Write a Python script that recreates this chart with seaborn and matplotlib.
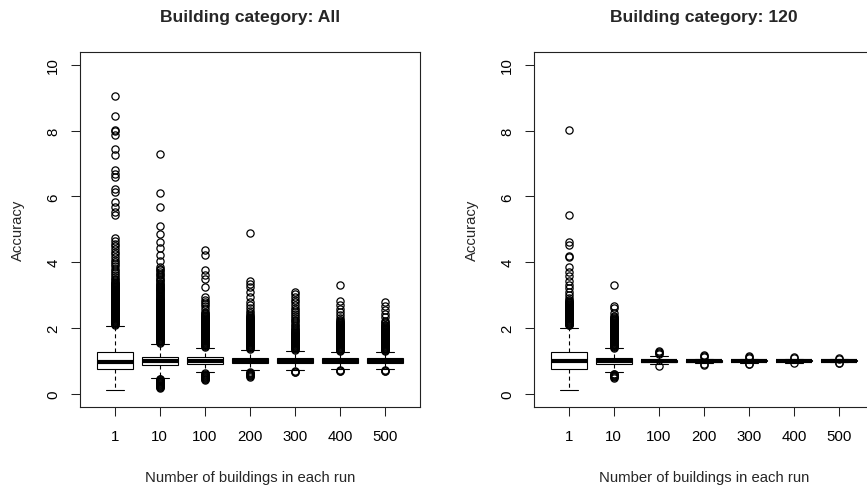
import matplotlib
matplotlib.use("Agg")
import pandas as pd
import matplotlib.pyplot as plt
import seaborn as sns

# x categories: number of buildings in each run
runs = ["1", "10", "100", "200", "300", "400", "500"]

# --- Building category: All (box stats) ---
all_whislo = [0.11, 0.49, 0.66, 0.71, 0.72, 0.76, 0.76]
all_q1 = [0.75, 0.87, 0.92, 0.94, 0.94, 0.95, 0.95]
all_med = [0.98, 1.00, 1.00, 0.99, 0.99, 1.00, 1.00]
all_q3 = [1.28, 1.13, 1.11, 1.10, 1.09, 1.08, 1.08]
all_whishi = [2.07, 1.51, 1.39, 1.33, 1.31, 1.27, 1.27]

all_low_out = [
    [],
    [0.46, 0.44, 0.42, 0.40, 0.38, 0.36, 0.34, 0.32, 0.30, 0.28,
     0.26, 0.24, 0.22, 0.20, 0.18],
    [0.62, 0.60, 0.58, 0.56, 0.54, 0.52, 0.50, 0.48, 0.46, 0.44, 0.42],
    [0.66, 0.64, 0.62, 0.60, 0.58, 0.56, 0.54, 0.52],
    [0.69, 0.67, 0.65],
    [0.72, 0.70, 0.68],
    [0.72, 0.70, 0.68],
]
all_high_out = [
    [2.10, 2.12, 2.14, 2.16, 2.18, 2.20, 2.22, 2.24, 2.26, 2.28,
     2.30, 2.32, 2.34, 2.36, 2.38, 2.40, 2.42, 2.44, 2.46, 2.48,
     2.50, 2.52, 2.54, 2.56, 2.58, 2.60, 2.62, 2.64, 2.66, 2.68,
     2.70, 2.72, 2.74, 2.76, 2.78, 2.80, 2.82, 2.84, 2.86, 2.88,
     2.90, 2.92, 2.94, 2.96, 2.98, 3.00, 3.02, 3.04, 3.06, 3.08,
     3.10, 3.12, 3.14, 3.16, 3.18, 3.20, 3.22, 3.24, 3.26, 3.28,
     3.30, 3.32, 3.34, 3.36, 3.38, 3.40,
     3.45, 3.50, 3.56, 3.62, 3.68, 3.74, 3.80, 3.87, 3.94, 4.01,
     4.08, 4.16, 4.24, 4.32, 4.40, 4.48, 4.56, 4.64, 4.72,
     5.42, 5.53, 5.68, 5.83, 6.13, 6.21, 6.59, 6.69, 6.79, 7.26,
     7.45, 7.85, 7.97, 8.03, 8.44, 9.04],
    [1.55, 1.57, 1.59, 1.61, 1.63, 1.65, 1.67, 1.69, 1.71, 1.73,
     1.75, 1.77, 1.79, 1.81, 1.83, 1.85, 1.87, 1.89, 1.91, 1.93,
     1.95, 1.97, 1.99, 2.01, 2.03, 2.05, 2.07, 2.09, 2.11, 2.13,
     2.15, 2.17, 2.19, 2.21, 2.23, 2.25, 2.27, 2.29, 2.31, 2.33,
     2.35, 2.37, 2.39, 2.41, 2.43, 2.45, 2.47, 2.49, 2.51, 2.53,
     2.55, 2.57, 2.59, 2.61, 2.63, 2.65, 2.67, 2.69, 2.71, 2.73,
     2.75, 2.77, 2.79, 2.81, 2.83, 2.85, 2.87, 2.89, 2.91, 2.93,
     2.96, 2.99, 3.02, 3.05, 3.08, 3.11, 3.14, 3.17, 3.20, 3.23,
     3.26, 3.29, 3.32, 3.35, 3.38, 3.42, 3.46, 3.50, 3.55, 3.60,
     3.65, 3.70, 3.75, 3.80, 3.85,
     4.03, 4.23, 4.42, 4.62, 4.87, 5.10, 5.68, 6.10, 7.28],
    [1.43, 1.45, 1.47, 1.49, 1.51, 1.53, 1.55, 1.57, 1.59, 1.61,
     1.63, 1.65, 1.67, 1.69, 1.71, 1.73, 1.75, 1.77, 1.79, 1.81,
     1.83, 1.85, 1.87, 1.89, 1.91, 1.93, 1.95, 1.97, 1.99, 2.01,
     2.03, 2.05, 2.07, 2.09, 2.11, 2.13, 2.15, 2.17, 2.19, 2.21,
     2.23, 2.25, 2.27, 2.29, 2.31, 2.33, 2.35, 2.37, 2.40, 2.43,
     2.46, 2.50, 2.58, 2.66, 2.72, 2.80, 2.86, 2.95, 3.25, 3.50,
     3.60, 3.76, 4.21, 4.36],
    [1.37, 1.39, 1.41, 1.43, 1.45, 1.47, 1.49, 1.51, 1.53, 1.55,
     1.57, 1.59, 1.61, 1.63, 1.65, 1.67, 1.69, 1.71, 1.73, 1.75,
     1.77, 1.79, 1.81, 1.83, 1.85, 1.87, 1.89, 1.91, 1.93, 1.95,
     1.97, 1.99, 2.01, 2.03, 2.05, 2.07, 2.09, 2.11, 2.13, 2.15,
     2.17, 2.19, 2.21, 2.23, 2.25, 2.27, 2.29, 2.31, 2.33, 2.36,
     2.40, 2.45, 2.52, 2.60, 2.70, 2.80, 2.95, 3.10, 3.25, 3.35,
     3.43, 4.90],
    [1.34, 1.36, 1.38, 1.40, 1.42, 1.44, 1.46, 1.48, 1.50, 1.52,
     1.54, 1.56, 1.58, 1.60, 1.62, 1.64, 1.66, 1.68, 1.70, 1.72,
     1.74, 1.76, 1.78, 1.80, 1.82, 1.84, 1.86, 1.88, 1.90, 1.93,
     1.97, 2.01, 2.05, 2.10, 2.15, 2.20, 2.25, 2.30, 2.36, 2.42,
     2.48, 2.55, 2.62, 2.70, 2.78, 2.86, 2.93, 3.02, 3.08],
    [1.30, 1.32, 1.34, 1.36, 1.38, 1.40, 1.42, 1.44, 1.46, 1.48,
     1.50, 1.52, 1.54, 1.56, 1.58, 1.60, 1.62, 1.64, 1.66, 1.68,
     1.70, 1.72, 1.74, 1.76, 1.78, 1.80, 1.82, 1.84, 1.86, 1.88,
     1.90, 1.92, 1.94, 1.96, 1.98, 2.00, 2.02, 2.04, 2.06, 2.08,
     2.10, 2.12, 2.14, 2.16, 2.18, 2.20, 2.24, 2.29, 2.38, 2.48,
     2.58, 2.70, 2.82, 3.30],
    [1.30, 1.32, 1.34, 1.36, 1.38, 1.40, 1.42, 1.44, 1.46, 1.48,
     1.50, 1.52, 1.54, 1.56, 1.58, 1.60, 1.62, 1.64, 1.66, 1.68,
     1.70, 1.72, 1.74, 1.76, 1.78, 1.80, 1.82, 1.84, 1.86, 1.88,
     1.90, 1.92, 1.94, 1.96, 1.98, 2.00, 2.02, 2.04, 2.06, 2.08,
     2.10, 2.14, 2.18, 2.22, 2.32, 2.42, 2.55, 2.67, 2.80],
]

# --- Building category: 120 ---
c120_whislo = [0.12, 0.66, 0.90, 0.93, 0.94, 0.95, 0.96]
c120_q1 = [0.76, 0.91, 0.97, 0.98, 0.985, 0.99, 0.99]
c120_med = [1.01, 1.00, 1.00, 1.00, 1.00, 1.00, 1.00]
c120_q3 = [1.28, 1.10, 1.04, 1.02, 1.02, 1.02, 1.015]
c120_whishi = [2.00, 1.38, 1.14, 1.07, 1.07, 1.06, 1.05]

c120_low_out = [
    [],
    [0.61, 0.59, 0.57, 0.55, 0.53, 0.51, 0.49],
    [0.85],
    [0.90, 0.88],
    [0.92, 0.91],
    [0.93],
    [0.94, 0.95],
]
c120_high_out = [
    [2.08, 2.10, 2.12, 2.14, 2.16, 2.18, 2.20, 2.22, 2.24, 2.26,
     2.28, 2.30, 2.32, 2.34, 2.36, 2.38, 2.40, 2.42, 2.44, 2.46,
     2.48, 2.50, 2.52, 2.54, 2.56, 2.58, 2.60, 2.62, 2.64, 2.66,
     2.68, 2.70, 2.72, 2.74, 2.76, 2.78, 2.80, 2.83, 2.86, 2.90,
     3.00, 3.10, 3.22, 3.30, 3.42, 3.59, 3.71, 3.86, 4.16, 4.20,
     4.52, 4.60, 5.42, 8.03],
    [1.40, 1.42, 1.44, 1.46, 1.48, 1.50, 1.52, 1.54, 1.56, 1.58,
     1.60, 1.62, 1.64, 1.66, 1.68, 1.70, 1.72, 1.74, 1.76, 1.78,
     1.80, 1.82, 1.84, 1.86, 1.88, 1.90, 1.92, 1.94, 1.96, 1.98,
     2.00, 2.02, 2.04, 2.06, 2.08, 2.10, 2.12, 2.14, 2.16, 2.18,
     2.20, 2.22, 2.24, 2.26, 2.28, 2.30, 2.33, 2.36, 2.45, 2.62,
     2.68, 3.30],
    [1.20, 1.24, 1.28, 1.31],
    [1.12, 1.16, 1.19],
    [1.10, 1.13, 1.15],
    [1.09, 1.11],
    [1.07, 1.08],
]


def make_frame(whislo, q1, med, q3, whishi, lows, highs, reps=400):
    # rebuild a sample whose quartiles / whiskers / outliers match the stats
    rows = []
    for i, run in enumerate(runs):
        vals = (lows[i] + [whislo[i]] + [q1[i]] * reps + [med[i]] * reps
                + [q3[i]] * reps + [whishi[i]] + highs[i])
        rows += [(run, v) for v in vals]
    return pd.DataFrame(rows, columns=["run", "acc"])


df_all = make_frame(all_whislo, all_q1, all_med, all_q3, all_whishi,
                    all_low_out, all_high_out)
df_120 = make_frame(c120_whislo, c120_q1, c120_med, c120_q3, c120_whishi,
                    c120_low_out, c120_high_out)

sns.set_theme(style="ticks")
plt.rcParams["font.family"] = ["Liberation Sans", "DejaVu Sans"]
plt.rcParams["lines.scale_dashes"] = False

W, H = 867, 489
fig = plt.figure(figsize=(W / 100, H / 100), dpi=100)

panels = [
    (df_all, "Building category: All", 79.5),
    (df_120, "Building category: 120", 533.5),
]
ax_w, ax_top, ax_bot = 340.5, 52.5, 408

for df, title, left in panels:
    ax = fig.add_axes([left / W, (H - ax_bot) / H, ax_w / W, (ax_bot - ax_top) / H])
    sns.boxplot(
        data=df, x="run", y="acc", order=runs, ax=ax,
        color="white", saturation=1, linecolor="black", linewidth=0.8,
        width=0.8, whis=1.5, fliersize=5.2,
        medianprops=dict(linewidth=3),
        whiskerprops=dict(linestyle=(0, (2.9, 2.2))),
        flierprops=dict(marker="o", markerfacecolor="none", markeredgewidth=0.9),
    )
    ax.set_xlim(-0.78, 6.78)
    ax.set_ylim(-0.4, 10.4)
    ax.set_yticks([0, 2, 4, 6, 8, 10])
    ax.set_xlabel("")
    ax.set_ylabel("")
    for s in ax.spines.values():
        s.set_visible(True)
        s.set_linewidth(0.8)
        s.set_color("#222222")
    ax.tick_params(axis="both", direction="out", length=6.5, width=0.75,
                   color="#222222", labelsize=10.8, labelcolor="black")
    ax.tick_params(axis="x", pad=9.3)
    ax.tick_params(axis="y", pad=7.4, labelrotation=90)
    for lab in ax.get_yticklabels():
        lab.set_va("center")

    cx = (left + ax_w / 2) / W
    fig.text(cx, 1 - 21.7 / H, title, ha="center", va="baseline",
             fontsize=12.6, fontweight="bold")
    fig.text(cx, 1 - 482.5 / H, "Number of buildings in each run",
             ha="center", va="baseline", fontsize=10.7)
    fig.text((left - 62) / W, 1 - 230 / H, "Accuracy", rotation=90,
             ha="center", va="center", fontsize=10.7)

fig.savefig("out.png", dpi=100)
